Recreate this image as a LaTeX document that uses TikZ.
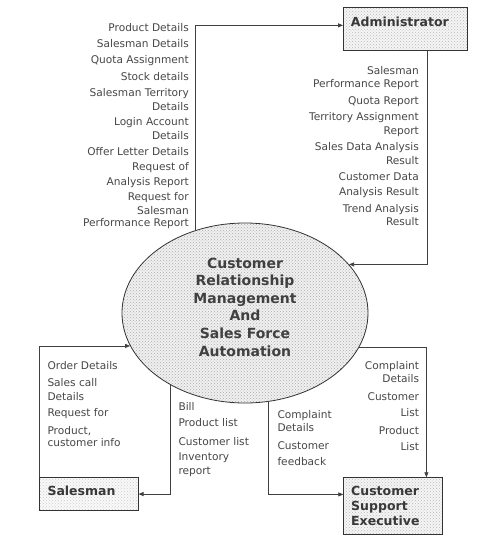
\documentclass[tikz,border=0pt]{standalone}
\usepackage{fontspec}
\setmainfont{DejaVu Sans}
\usetikzlibrary{arrows.meta,patterns,shapes.geometric}
\tikzset{
  lbl/.style={inner sep=0pt, text=black!72, font=\fontsize{10.6}{13}\selectfont},
  bold/.style={inner sep=0pt, text=black!78, font=\bfseries\fontsize{12.5}{15}\selectfont},
  entbox/.style={draw=black!80, line width=0.8pt, inner sep=0pt, anchor=north west,
    preaction={fill=gray!8}, pattern=crosshatch dots, pattern color=gray!55},
  flow/.style={draw=black!75, line width=0.8pt, -{Triangle[length=5pt,width=4pt]}},
}
\begin{document}
\begin{tikzpicture}[x=1pt,y=-1pt]
\useasboundingbox (0,0) rectangle (499,544);
\fill[white] (0,0) rectangle (499,544);

% central process
\node[ellipse, draw=black!80, line width=0.8pt, inner sep=0pt,
      minimum width=246pt, minimum height=180pt,
      preaction={fill=gray!12}, pattern=crosshatch dots, pattern color=gray!65] (crm) at (245,313) {};
\node[inner sep=0pt, align=center, text=black!75,
      font=\bfseries\fontsize{14}{17.6}\selectfont] (crmtxt) at (245,307)
  {Customer\\Relationship\\Management\\And\\Sales Force\\Automation};

% external entities
\node[entbox, minimum width=124pt, minimum height=42.7pt] (admin) at (343,7.3) {};
\node[bold, anchor=base west] (admintxt) at (350.7,26) {Administrator};

\node[entbox, minimum width=98.4pt, minimum height=32.7pt,
      preaction={fill=gray!5}, pattern color=gray!40] (sales) at (39.3,477.3) {};
\node[bold, anchor=base west] (salestxt) at (47.3,495.7) {Salesman};

\node[entbox, minimum width=98.4pt, minimum height=57pt] (cse) at (343.3,477.3) {};
\node[bold, anchor=base west] (csetxt1) at (351,495.7) {Customer};
\node[bold, anchor=base west] (csetxt2) at (351,510.7) {Support};
\node[bold, anchor=base west] (csetxt3) at (351,525.7) {Executive};

% flows
\draw[flow] (crm.121.3) |- ([yshift=3.7pt]admin.west);
\draw[flow] ([xshift=21.5pt]admin.south) |- (crm.25.4);
\draw[flow] (sales.north west) |- (crm.196.1);
\draw[flow] (crm.224.2) |- (sales.east);
\draw[flow] (crm.343.9) -| ([xshift=33.5pt]cse.north);
\draw[flow] (crm.285.8) |- ([yshift=11.8pt]cse.west);

% labels: to administrator
\foreach \y/\t [count=\i] in {31.7/Product Details, 47.7/Salesman Details,
  63.7/Quota Assignment, 80/Stock details, 96.7/Salesman Territory, 110/Details,
  125.7/Login Account, 139/Details, 155/Offer Letter Details, 170.7/Request of,
  185/Analysis Report, 200.7/Request for, 214/Salesman, 226.7/Performance Report}
  \node[lbl, anchor=base east] (ta\i) at (189,\y) {\t};

% labels: from administrator
\foreach \y/\t [count=\i] in {74/Salesman, 87.3/Performance Report, 104/Quota Report,
  120.7/Territory Assignment, 134/Report, 150.7/Sales Data Analysis, 164/Result,
  180/Customer Data, 195/Analysis Result, 212.3/Trend Analysis, 225/Result}
  \node[lbl, anchor=base east] (fa\i) at (419,\y) {\t};

% labels: from salesman
\foreach \y/\t [count=\i] in {369/Order Details, 386/Sales call, 400/Details,
  416.7/Request for, 434/{Product,}, 446.7/customer info}
  \node[lbl, anchor=base west] (fs\i) at (47.3,\y) {\t};

% labels: to salesman
\foreach \y/\t [count=\i] in {410.7/Bill, 426.7/Product list, 445/Customer list,
  460.7/Inventory, 474.3/report}
  \node[lbl, anchor=base west] (ts\i) at (178.3,\y) {\t};

% labels: to customer support executive
\foreach \y/\t [count=\i] in {369/Complaint, 382.7/Details, 400/Customer,
  416.7/List, 434/Product, 450.7/List}
  \node[lbl, anchor=base east] (tc\i) at (419.3,\y) {\t};

% labels: from customer support executive
\foreach \y/\t [count=\i] in {418.3/Complaint, 431.7/Details, 449.3/Customer,
  465.7/feedback}
  \node[lbl, anchor=base west] (fc\i) at (277.3,\y) {\t};
\end{tikzpicture}
\end{document}
